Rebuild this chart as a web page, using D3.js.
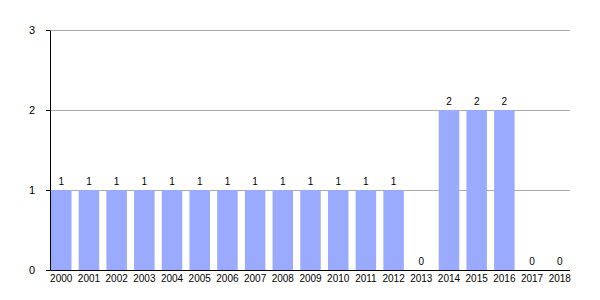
<!DOCTYPE html>
<html>
<head>
<meta charset="utf-8">
<script src="https://cdn.jsdelivr.net/npm/d3@7"></script>
<style>
  body { margin: 0; background: #fff; }
  text { font-family: "Liberation Sans", Arial, sans-serif; }
</style>
</head>
<body>
<div id="chart"></div>
<script>
var years = ["2000","2001","2002","2003","2004","2005","2006","2007","2008","2009",
             "2010","2011","2012","2013","2014","2015","2016","2017","2018"];
var counts = [1,1,1,1,1,1,1,1,1,1,1,1,1,0,2,2,2,0,0];
var yTicks = [0,1,2,3];

var margin = {top: 30, right: 30, bottom: 30, left: 50},
  width = 600 - margin.left - margin.right,
  height = 300 - margin.top - margin.bottom;

var svg = d3.select("#chart")
  .append("svg")
  .attr("width", 600)
  .attr("height", 300)
  .append("g")
  .attr("transform", "translate(" + margin.left + "," + margin.top + ")");

// bars run right up to both ends of the plot
var x = d3.scaleBand().domain(years).range([1, width]).paddingInner(0.26).paddingOuter(0);
var y = d3.scaleLinear().domain([0, 3]).range([height, 0]);

// gridlines
svg.selectAll(".grid")
  .data(yTicks.filter(function(d){ return d > 0; }))
  .enter().append("line")
  .attr("x1", 0).attr("x2", width)
  .attr("y1", function(d){ return y(d) + 0.5; })
  .attr("y2", function(d){ return y(d) + 0.5; })
  .attr("stroke", "#aaa").attr("stroke-width", 1);

svg.selectAll(".bar")
  .data(counts)
  .enter().append("rect")
  .attr("x", function(d, i){ return x(years[i]); })
  .attr("y", function(d){ return y(d); })
  .attr("width", x.bandwidth())
  .attr("height", function(d){ return height - y(d); })
  .attr("fill", "#99aaff");

svg.selectAll(".val")
  .data(counts)
  .enter().append("text")
  .attr("x", function(d, i){ return x(years[i]) + x.bandwidth() / 2; })
  .attr("y", function(d){ return y(d) - 5; })
  .attr("text-anchor", "middle")
  .attr("font-size", 10)
  .text(function(d){ return d; });

// y axis
var yAxis = svg.append("g")
  .attr("font-family", "Liberation Sans, Arial, sans-serif")
  .call(d3.axisLeft(y).tickValues(yTicks).tickFormat(d3.format("d")).tickSize(4).tickSizeOuter(0));
yAxis.attr("font-family", "Liberation Sans, Arial, sans-serif");
yAxis.select(".domain").attr("stroke", "#000");
yAxis.selectAll("text").attr("font-size", 11).attr("dx", "-8");

// x axis
var xAxis = svg.append("g")
  .attr("transform", "translate(0," + height + ")")
  .call(d3.axisBottom(x).tickSize(0).tickSizeOuter(0));
xAxis.attr("font-family", "Liberation Sans, Arial, sans-serif");
xAxis.select(".domain").attr("stroke", "#000").attr("d", "M0,0.5H" + width);
xAxis.selectAll("text").attr("font-size", 10).attr("dy", "0.9em");
</script>
</body>
</html>
